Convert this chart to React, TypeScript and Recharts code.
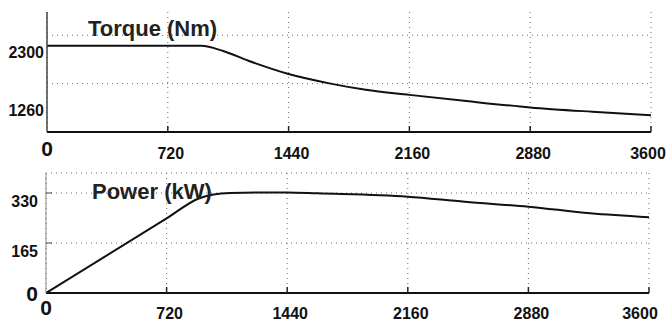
import { LineChart, Line, XAxis, YAxis, CartesianGrid, ReferenceLine } from 'recharts'

// speed axis (rpm)
const rpmTicks = [0, 720, 1440, 2160, 2880, 3600]

// torque panel
const torqueTicks = [1260, 2300]
const torqueGrid = [1290, 2580]
const torqueRpm = [0, 920, 1050, 1200, 1440, 1690, 1900, 2160, 2500, 2880, 3250, 3600]
const torqueNm = [2300, 2300, 2160, 1900, 1545, 1290, 1125, 990, 825, 655, 540, 447]

// power panel
const powerTicks = [0, 165, 330]
const powerRpm = [0, 720, 912, 1000, 1100, 1440, 1620, 2160, 2500, 2880, 3250, 3600]
const powerKw = [0, 246, 312, 325, 330, 332, 329, 318, 301, 285, 263, 250]

const torqueData = torqueRpm.map((rpm, i) => ({ rpm, torque: torqueNm[i] }))
const powerData = powerRpm.map((rpm, i) => ({ rpm, power: powerKw[i] }))

const FONT = "'Liberation Sans', Arial, sans-serif"
const GRID = '#6b6b6b'

function XTick({ x, y, payload, dy, zeroDy, lastDx }: { x?: number; y?: number; payload?: { value: number }; dy: number; zeroDy: number; lastDx: number }) {
  const v = payload?.value ?? 0
  const isZero = v === 0
  const dx = isZero ? 0 : v === 3600 ? lastDx : 3
  return (
    <g>
      {!isZero && <line x1={x} x2={x} y1={y} y2={(y ?? 0) - 6} stroke="#222" strokeWidth={1.5} />}
      <text
        x={(x ?? 0) + dx}
        y={(y ?? 0) + (isZero ? zeroDy : dy)}
        textAnchor="middle"
        dominantBaseline="central"
        fontFamily={FONT}
        fontWeight={700}
        fontSize={isZero ? 21 : 16}
        fill="#111"
      >
        {v}
      </text>
    </g>
  )
}

function YTick({ x, y, payload, gap, dyFor, inward }: { x?: number; y?: number; payload?: { value: number }; gap: number; dyFor: (v: number) => number; inward: boolean }) {
  const v = payload?.value ?? 0
  const isZero = v === 0
  return (
    <g>
      {inward && !isZero && <line x1={x} x2={(x ?? 0) + 6} y1={y} y2={y} stroke="#444" strokeWidth={1} />}
      <text
        x={(x ?? 0) - gap}
        y={(y ?? 0) + dyFor(v)}
        textAnchor="end"
        dominantBaseline="central"
        fontFamily={FONT}
        fontWeight={700}
        fontSize={isZero ? 21 : 16}
        fill="#111"
      >
        {v}
      </text>
    </g>
  )
}

export default function App() {
  return (
    <div style={{ position: 'absolute', left: 0, top: 0, width: 668, height: 321, background: '#fff', fontFamily: FONT }}>
      <div style={{ position: 'absolute', left: 0, top: 0 }}>
        <LineChart width={668} height={170} data={torqueData} margin={{ top: 12, right: 17, bottom: 10, left: 0 }}>
          <CartesianGrid horizontal={false} stroke={GRID} strokeDasharray="1 4" />
          {torqueGrid.map((g) => (
            <ReferenceLine key={g} y={g} stroke={GRID} strokeDasharray="1 4" />
          ))}
          <XAxis
            dataKey="rpm"
            type="number"
            domain={[0, 3600]}
            ticks={rpmTicks}
            height={28}
            tickSize={0}
            tickMargin={0}
            tickLine={false}
            axisLine={{ stroke: '#111', strokeWidth: 2 }}
            tick={(p: any) => <XTick {...p} dy={21} zeroDy={16} lastDx={-3} />}
          />
          <YAxis
            type="number"
            domain={[0, 3200]}
            ticks={torqueTicks}
            width={47}
            tickSize={0}
            tickMargin={0}
            tickLine={false}
            axisLine={{ stroke: '#444', strokeWidth: 1.5 }}
            tick={(p: any) => <YTick {...p} gap={3} dyFor={(v: number) => (v < 2000 ? 26 : 7)} inward={false} />}
          />
          <Line type="monotone" dataKey="torque" stroke="#111" strokeWidth={2} dot={false} isAnimationActive={false} />
        </LineChart>
      </div>
      <div style={{ position: 'absolute', left: 0, top: 160 }}>
        <LineChart width={668} height={161} data={powerData} margin={{ top: 13, right: 19, bottom: 0, left: 0 }}>
          <CartesianGrid stroke={GRID} strokeDasharray="1 4" />
          <XAxis
            dataKey="rpm"
            type="number"
            domain={[0, 3600]}
            ticks={rpmTicks}
            height={28}
            tickSize={0}
            tickMargin={0}
            tickLine={false}
            axisLine={{ stroke: '#111', strokeWidth: 2 }}
            tick={(p: any) => <XTick {...p} dy={20} zeroDy={14} lastDx={-9} />}
          />
          <YAxis
            type="number"
            domain={[0, 396]}
            ticks={powerTicks}
            width={46}
            tickSize={0}
            tickMargin={0}
            tickLine={false}
            axisLine={{ stroke: '#888', strokeWidth: 1 }}
            tick={(p: any) => <YTick {...p} gap={8} dyFor={(v: number) => (v === 0 ? 0 : 8)} inward={true} />}
          />
          <Line type="monotone" dataKey="power" stroke="#111" strokeWidth={2} dot={false} isAnimationActive={false} />
        </LineChart>
      </div>
      <svg width={668} height={321} style={{ position: 'absolute', left: 0, top: 0, pointerEvents: 'none' }}>
        <text x={88} y={36} fontFamily={FONT} fontWeight={700} fontSize={22} fill="#222">
          Torque (Nm)
        </text>
        <text x={92} y={199} fontFamily={FONT} fontWeight={700} fontSize={22} fill="#222">
          Power (kW)
        </text>
      </svg>
    </div>
  )
}
